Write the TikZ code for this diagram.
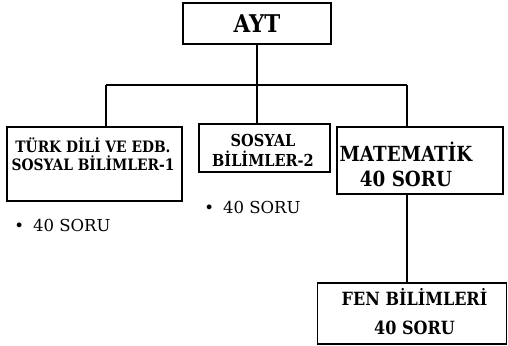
\documentclass[tikz,border=0pt]{standalone}
\usepackage{fontspec}
\setmainfont{DejaVu Serif}[BoldFeatures={FakeStretch=0.88}]
\usetikzlibrary{calc}

\tikzset{
  kutu/.style={draw, line width=1.5pt, inner sep=0pt},
  yazi/.style={font=\bfseries, align=center, inner sep=0pt},
  madde/.style={inner sep=0pt, font=\fontsize{16.5}{20}\selectfont}
}

\begin{document}
\begin{tikzpicture}[x=1pt, y=-1pt]
            \useasboundingbox (0,0) rectangle (508,345);
            % kutular
            \node[kutu, minimum width=148, minimum height=41] (ayt) at (257,23.5) {};
            \node[kutu, minimum width=175, minimum height=74] (tdeb) at (94.5,164) {};
            \node[kutu, minimum width=131, minimum height=48] (sos2) at (264.5,148) {};
            \node[kutu, minimum width=166, minimum height=67] (mat) at (420,160.5) {};
            \node[kutu, minimum width=189, minimum height=61] (fen) at (412,313.5) {};
            % yazilar
            \node[yazi, font=\bfseries\fontsize{24.4}{26}\selectfont] (aytyazi) at (257,24) {AYT};
            \node[yazi, font=\bfseries\fontsize{15.7}{18}\selectfont] (tdebyazi) at (93,154) {TÜRK DİLİ VE EDB.\\SOSYAL BİLİMLER-1};
            \node[yazi, font=\bfseries\fontsize{16.5}{20}\selectfont] (sos2yazi) at (263,150) {SOSYAL\\BİLİMLER-2};
            \node[yazi, font=\bfseries\fontsize{20.8}{25}\selectfont] (matyazi) at (406,164) {MATEMATİK\\40 SORU};
            \node[yazi, font=\bfseries\fontsize{18.2}{29}\selectfont] (fenyazi) at (414.5,312) {FEN BİLİMLERİ\\40 SORU};
            \node[madde] (tdebsoru) at (62.5,225) {\textbullet\hspace{9pt}40 SORU};
            \node[madde] (sos2soru) at (252.5,207) {\textbullet\hspace{9pt}40 SORU};
            % baglantilar
            \coordinate (sol) at (106,85);
            \coordinate (sag) at (407,85);
            \draw[line width=1.5pt] (sol) -- (sag);
            \draw[line width=1.5pt] (ayt.south) -- (ayt.south |- sos2.north);
            \draw[line width=1.5pt] (sol) -- (sol |- tdeb.north);
            \draw[line width=1.5pt] (sag) -- (sag |- mat.north);
            \draw[line width=1.5pt] (sag |- mat.south) -- (sag |- fen.north);
        \end{tikzpicture}
\end{document}
